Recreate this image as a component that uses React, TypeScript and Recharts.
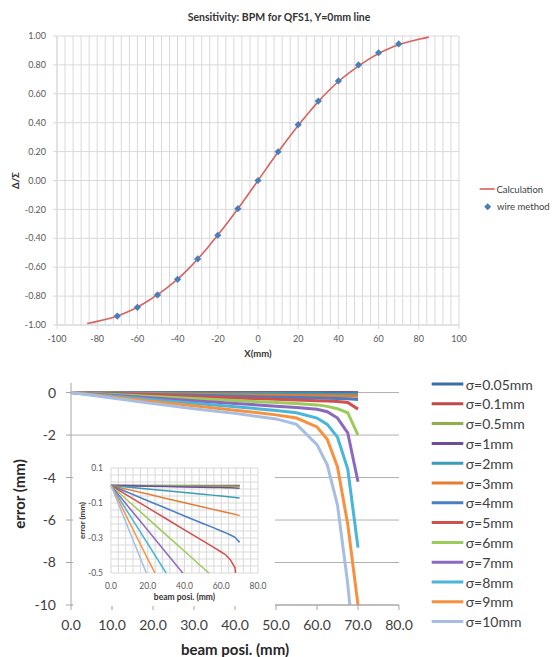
import {
  CartesianGrid,
  ComposedChart,
  Legend,
  Line,
  LineChart,
  Scatter,
  XAxis,
  YAxis,
} from 'recharts'

const FONT = 'Lato, "Noto Sans", sans-serif'

// top chart: BPM sensitivity, calculation vs wire method
const CALC_X = [-85, -80, -75, -70, -65, -60, -55, -50, -45, -40, -35, -30, -25, -20, -15, -10, -5, 0, 5, 10, 15, 20, 25, 30, 35, 40, 45, 50, 55, 60, 65, 70, 75, 80, 85]
const CALC_Y = [-0.99, -0.975, -0.958, -0.937, -0.91, -0.877, -0.836, -0.79, -0.739, -0.683, -0.617, -0.543, -0.463, -0.378, -0.289, -0.196, -0.099, 0, 0.099, 0.197, 0.291, 0.381, 0.466, 0.546, 0.619, 0.685, 0.741, 0.792, 0.838, 0.879, 0.912, 0.939, 0.96, 0.977, 0.992]
const WIRE_X = [-70, -60, -50, -40, -30, -20, -10, 0, 10, 20, 30, 40, 50, 60, 70]
const WIRE_Y = [-0.938, -0.878, -0.792, -0.684, -0.543, -0.379, -0.195, 0, 0.199, 0.386, 0.55, 0.689, 0.8, 0.884, 0.945]
const SENS_X_TICKS = [-100, -80, -60, -40, -20, 0, 20, 40, 60, 80, 100]
const SENS_Y_TICKS = [-1, -0.8, -0.6, -0.4, -0.2, 0, 0.2, 0.4, 0.6, 0.8, 1]

// bottom chart: position error per beam size
const BEAM_X = [0, 10, 20, 30, 40, 50, 55, 60, 62.5, 65, 67.5, 70]
const SIGMA_LABELS = ['σ=0.05mm', 'σ=0.1mm', 'σ=0.5mm', 'σ=1mm', 'σ=2mm', 'σ=3mm', 'σ=4mm', 'σ=5mm', 'σ=6mm', 'σ=7mm', 'σ=8mm', 'σ=9mm', 'σ=10mm']
const ERR_S005 = [0, 0, 0, 0, 0, 0, 0, 0, 0, 0, 0, 0]
const ERR_S01 = [0, 0, -0.001, -0.001, -0.001, -0.002, -0.002, -0.002, -0.002, -0.002, -0.002, -0.003]
const ERR_S05 = [0, -0.001, -0.001, -0.002, -0.002, -0.003, -0.003, -0.003, -0.004, -0.004, -0.004, -0.005]
const ERR_S1 = [0, -0.002, -0.004, -0.006, -0.008, -0.01, -0.011, -0.012, -0.013, -0.013, -0.014, -0.016]
const ERR_S2 = [0, -0.01, -0.02, -0.03, -0.04, -0.05, -0.055, -0.06, -0.063, -0.066, -0.069, -0.072]
const ERR_S3 = [0, -0.025, -0.049, -0.074, -0.098, -0.123, -0.135, -0.147, -0.153, -0.159, -0.165, -0.172]
const ERR_S4 = [0, -0.043, -0.087, -0.13, -0.174, -0.217, -0.238, -0.26, -0.271, -0.283, -0.296, -0.325]
const ERR_S5 = [0, -0.063, -0.127, -0.19, -0.253, -0.317, -0.348, -0.38, -0.397, -0.425, -0.47, -0.78]
const ERR_S6 = [0, -0.094, -0.188, -0.282, -0.376, -0.47, -0.515, -0.58, -0.65, -0.76, -0.95, -2.0]
const ERR_S7 = [0, -0.128, -0.256, -0.384, -0.512, -0.64, -0.7, -0.79, -0.9, -1.2, -1.9, -4.2]
const ERR_S8 = [0, -0.167, -0.333, -0.5, -0.667, -0.84, -0.95, -1.2, -1.5, -2.1, -3.6, -7.3]
const ERR_S9 = [0, -0.21, -0.42, -0.625, -0.83, -1.05, -1.2, -1.62, -2.2, -3.5, -6.2, -10.0]
const ERR_S10 = [0, -0.26, -0.52, -0.76, -0.98, -1.24, -1.5, -2.45, -3.4, -5.3, -9.0, -14.0]
const SERIES = [ERR_S005, ERR_S01, ERR_S05, ERR_S1, ERR_S2, ERR_S3, ERR_S4, ERR_S5, ERR_S6, ERR_S7, ERR_S8, ERR_S9, ERR_S10]
const SERIES_COLORS = ['#3D6DA8', '#BE4B48', '#8DB049', '#6E4C99', '#3A9CB7', '#E47C32', '#4A7EC4', '#D0504D', '#9BCB59', '#8C69BF', '#48B6D8', '#F8913F', '#A6BEE2']
const ERR_X_TICKS = [0, 10, 20, 30, 40, 50, 60, 70, 80]
const ERR_Y_TICKS = [0, -2, -4, -6, -8, -10]
const INSET_X_TICKS = [0, 20, 40, 60, 80]
const INSET_Y_TICKS = [0.1, -0.1, -0.3, -0.5]

// minor grid positions (Excel minor units)
const SENS_GRID_X = Array.from({ length: 51 }, (_, i) => -100 + i * 4)
const INSET_GRID_X = Array.from({ length: 21 }, (_, i) => i * 4)
const INSET_GRID_Y = Array.from({ length: 16 }, (_, i) => +(0.1 - i * 0.04).toFixed(2))

const calcRows = CALC_X.map((x, i) => ({ x, y: CALC_Y[i] }))
const wireRows = WIRE_X.map((x, i) => ({ x, y: WIRE_Y[i] }))
const errRows = BEAM_X.map((x, i) => {
  const row: Record<string, number> = { x }
  SERIES.forEach((s, k) => (row[`s${k}`] = s[i]))
  return row
})

const BLUE_MARK = '#4A7EBB'
const CALC_RED = '#D9625E'

// map grid values onto the plot box the grid gets from recharts
const gridX = (values: number[], min: number, max: number) => ({ offset }: any) =>
  values.map((v) => offset.left + ((v - min) / (max - min)) * offset.width)
const gridY = (values: number[], min: number, max: number) => ({ offset }: any) =>
  values.map((v) => offset.top + ((max - v) / (max - min)) * offset.height)

const Diamond = (p: any) => (
  <path
    d={`M${p.cx},${p.cy - 3.6}L${p.cx + 3.6},${p.cy}L${p.cx},${p.cy + 3.6}L${p.cx - 3.6},${p.cy}Z`}
    fill={BLUE_MARK}
  />
)

function SensLegend() {
  return (
    <svg width={80} height={40} style={{ fontFamily: FONT, fontSize: 9.5, fill: '#404040' }}>
      <line x1={3.6} x2={18.7} y1={11} y2={11} stroke={CALC_RED} strokeWidth={1.6} />
      <text x={20.5} y={11} dominantBaseline="central">Calculation</text>
      <path d="M11.7,25.2L15.2,28.7L11.7,32.2L8.2,28.7Z" fill={BLUE_MARK} />
      <text x={21} y={28.7} dominantBaseline="central">wire method</text>
    </svg>
  )
}

function SigmaLegend() {
  return (
    <svg width={127} height={260} style={{ fontFamily: FONT, fontSize: 14, fill: '#404040' }}>
      {SIGMA_LABELS.map((name, i) => (
        <g key={name}>
          <line x1={6.7} x2={38.3} y1={9 + i * 19.8} y2={9 + i * 19.8} stroke={SERIES_COLORS[i]} strokeWidth={3} />
          <text x={40.7} y={9 + i * 19.8} dominantBaseline="central">{name}</text>
        </g>
      ))}
    </svg>
  )
}

function SensitivityChart() {
  const tick = { fill: '#595959', fontSize: 9, fontFamily: FONT }
  return (
    <div style={{ position: 'absolute', left: 0, top: 0, width: 552, height: 365 }}>
      <div
        style={{
          position: 'absolute',
          left: 0,
          top: 10,
          width: 558,
          textAlign: 'center',
          fontFamily: FONT,
          fontSize: 10.5,
          lineHeight: '14px',
          fontWeight: 700,
          color: '#333',
        }}
      >
        Sensitivity: BPM for QFS1, Y=0mm line
      </div>
      <ComposedChart width={552} height={365} margin={{ top: 36, right: 93, bottom: 0, left: 10 }}>
        <CartesianGrid
          stroke="#D9D9D9"
          verticalCoordinatesGenerator={gridX(SENS_GRID_X, -100, 100)}
          horizontalCoordinatesGenerator={gridY(SENS_Y_TICKS, -1, 1)}
        />
        <XAxis
          type="number"
          dataKey="x"
          domain={[-100, 100]}
          ticks={SENS_X_TICKS}
          height={40}
          tickSize={4}
          tickMargin={7}
          stroke="#D9D9D9"
          tick={tick}
          label={{ value: 'X(mm)', position: 'insideBottom', offset: 8, fontSize: 9.5, fontWeight: 700, fill: '#333', fontFamily: FONT }}
        />
        <YAxis
          type="number"
          domain={[-1, 1]}
          ticks={SENS_Y_TICKS}
          width={47}
          tickSize={4}
          tickMargin={7}
          stroke="#D9D9D9"
          tick={tick}
          tickFormatter={(v: number) => v.toFixed(2)}
          label={{ value: 'Δ/Σ', angle: -90, position: 'insideLeft', offset: 6, fontSize: 9.5, fontWeight: 700, fill: '#333', fontFamily: FONT, style: { textAnchor: 'middle' } }}
        />
        <Line data={calcRows} dataKey="y" type="monotone" stroke={CALC_RED} strokeWidth={1.6} dot={false} isAnimationActive={false} />
        <Scatter data={wireRows} dataKey="y" shape={Diamond} isAnimationActive={false} />
        <Legend content={<SensLegend />} layout="vertical" align="center" verticalAlign="middle" wrapperStyle={{ left: 476, top: 178, width: 80, height: 40 }} />
      </ComposedChart>
    </div>
  )
}

function ErrorChart() {
  const tick = { fill: '#404040', fontSize: 14, fontFamily: FONT }
  return (
    <div style={{ position: 'absolute', left: 0, top: 365, width: 552, height: 292 }}>
      <LineChart width={552} height={292} data={errRows} margin={{ top: 18, right: 153, bottom: 0, left: 16 }}>
        <CartesianGrid stroke="#B0B0B0" vertical={false} horizontalCoordinatesGenerator={gridY(ERR_Y_TICKS, -10, 0.45)} />
        <XAxis
          type="number"
          dataKey="x"
          domain={[0, 80]}
          ticks={ERR_X_TICKS}
          height={52}
          tickSize={5}
          tickMargin={10}
          stroke="#A6A6A6"
          tick={tick}
          tickFormatter={(v: number) => v.toFixed(1)}
          label={{ value: 'beam posi. (mm)', position: 'insideBottom', offset: 2, fontSize: 15, fontWeight: 700, fill: '#262626', fontFamily: FONT }}
        />
        <YAxis
          type="number"
          domain={[-10, 0.45]}
          ticks={ERR_Y_TICKS}
          allowDataOverflow
          width={55}
          tickSize={5}
          tickMargin={10}
          stroke="#A6A6A6"
          tick={tick}
          label={{ value: 'error (mm)', angle: -90, position: 'insideLeft', offset: 3.5, fontSize: 15, fontWeight: 700, fill: '#262626', fontFamily: FONT, style: { textAnchor: 'middle' } }}
        />
        {SERIES.map((_, k) => (
          <Line
            key={k}
            dataKey={`s${k}`}
            name={SIGMA_LABELS[k]}
            type="linear"
            stroke={SERIES_COLORS[k]}
            strokeWidth={3}
            dot={false}
            isAnimationActive={false}
          />
        ))}
        <Legend content={<SigmaLegend />} layout="vertical" align="center" verticalAlign="middle" wrapperStyle={{ left: 425, top: 10, width: 127, height: 260 }} />
      </LineChart>
      <InsetChart />
    </div>
  )
}

function InsetChart() {
  const tick = { fill: '#595959', fontSize: 8.5, fontFamily: FONT }
  return (
    <div style={{ position: 'absolute', left: 73, top: 85, width: 202, height: 156, background: '#fff' }}>
      <LineChart width={202} height={156} data={errRows} margin={{ top: 18, right: 17, bottom: 0, left: 0 }}>
        <CartesianGrid
          stroke="#D9D9D9"
          verticalCoordinatesGenerator={gridX(INSET_GRID_X, 0, 80)}
          horizontalCoordinatesGenerator={gridY(INSET_GRID_Y, -0.5, 0.1)}
        />
        <XAxis
          type="number"
          dataKey="x"
          domain={[0, 80]}
          ticks={INSET_X_TICKS}
          height={33}
          tickSize={0}
          tickMargin={10}
          axisLine={false}
          tick={tick}
          tickFormatter={(v: number) => v.toFixed(1)}
          label={{ value: 'beam posi. (mm)', position: 'insideBottom', offset: 6, fontSize: 8.5, fontWeight: 700, fill: '#333', fontFamily: FONT }}
        />
        <YAxis
          type="number"
          domain={[-0.5, 0.1]}
          ticks={INSET_Y_TICKS}
          allowDataOverflow
          width={38}
          tickSize={0}
          tickMargin={8}
          axisLine={false}
          tick={tick}
          label={{ value: 'error (mm)', angle: -90, position: 'insideLeft', offset: 8.7, fontSize: 8, fontWeight: 700, fill: '#333', fontFamily: FONT, style: { textAnchor: 'middle' } }}
        />
        {SERIES.map((_, k) => (
          <Line
            key={k}
            dataKey={`s${k}`}
            type="linear"
            stroke={SERIES_COLORS[k]}
            strokeWidth={1.5}
            dot={false}
            isAnimationActive={false}
          />
        ))}
      </LineChart>
    </div>
  )
}

export default function App() {
  return (
    <div style={{ position: 'absolute', left: 0, top: 0, width: 552, height: 657, background: '#fff' }}>
      <SensitivityChart />
      <ErrorChart />
    </div>
  )
}
